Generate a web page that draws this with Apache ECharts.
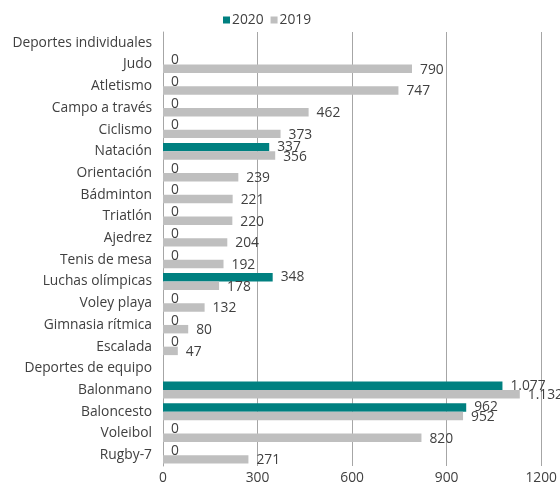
<!DOCTYPE html>
<html><head><meta charset="utf-8">
<script src="https://cdn.jsdelivr.net/npm/echarts@6/dist/echarts.min.js"></script>
<style>html,body{margin:0;padding:0;background:#fff}#c{width:560px;height:485px}</style>
</head><body><div id="c"></div>
<script>
const categories = ["Deportes individuales","Judo","Atletismo","Campo a través","Ciclismo","Natación","Orientación","Bádminton","Triatlón","Ajedrez","Tenis de mesa","Luchas olímpicas","Voley playa","Gimnasia rítmica","Escalada","Deportes de equipo","Balonmano","Baloncesto","Voleibol","Rugby-7"];
const values2020 = [null,0,0,0,0,337,0,0,0,0,0,348,0,0,0,null,1077,962,0,0];
const values2019 = [null,790,747,462,373,356,239,221,220,204,192,178,132,80,47,null,1132,952,820,271];
const xTicks = [0,300,600,900,1200];

const fmt = v => v == null ? '' : String(v).replace(/\B(?=(\d{3})+(?!\d))/g, '.');
const font = '"Open Sans", sans-serif';
const fs = 13.8;
const chart = echarts.init(document.getElementById('c'), null, {renderer:'canvas'});
chart.setOption({
  animation:false,
  textStyle:{fontFamily:font},
  legend:{top:8,left:218,itemWidth:7,itemHeight:7,itemGap:7,icon:'rect',
    textStyle:{fontSize:fs,color:'#404040',fontFamily:font,padding:[0,0,0,-3]},data:['2020','2019']},
  grid:{left:163,right:16,top:32,bottom:15,containLabel:false},
  xAxis:{type:'value',min:xTicks[0],max:xTicks[xTicks.length-1],interval:300,
    axisLine:{show:false},axisTick:{show:false},
    splitLine:{lineStyle:{color:'#a6a6a6',width:1}},
    axisLabel:{color:'#404040',fontSize:fs,margin:5,fontFamily:font,formatter:v=>String(v)}},
  yAxis:{type:'category',data:categories,inverse:true,
    axisLine:{show:true,lineStyle:{color:'#a6a6a6'}},axisTick:{show:false},
    axisLabel:{color:'#404040',fontSize:fs,margin:11,fontFamily:font}},
  series:[
    {name:'2020',type:'bar',data:values2020,itemStyle:{color:'#008080'},
     barGap:'0%',barCategoryGap:'22%',
     label:{show:true,position:'right',distance:8,color:'#404040',fontSize:fs,fontFamily:font,
       formatter:p=>fmt(p.value)}},
    {name:'2019',type:'bar',data:values2019,itemStyle:{color:'#bfbfbf'},
     barGap:'0%',barCategoryGap:'22%',
     label:{show:true,position:'right',distance:8,color:'#404040',fontSize:fs,fontFamily:font,
       offset:[0,1],formatter:p=>fmt(p.value)}}
  ]
});
</script></body></html>
